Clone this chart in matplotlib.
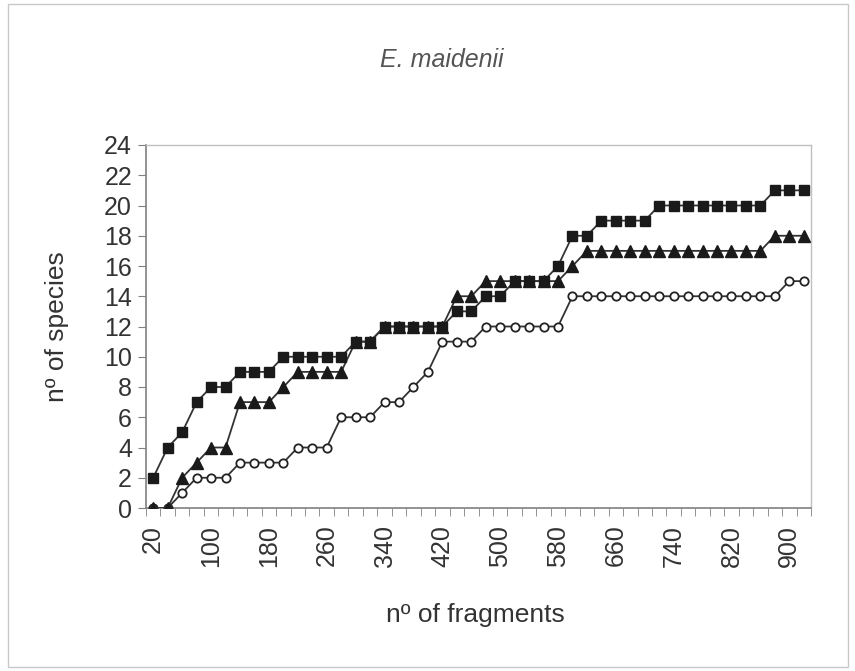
import matplotlib
matplotlib.use("Agg")
import matplotlib.pyplot as plt
from matplotlib.patches import Rectangle

plt.rcParams['font.family'] = ['Liberation Sans', 'DejaVu Sans']

# fragments sampled (every 20), 20..920
fragments = list(range(20, 921, 20))

# species counts
squares = [2, 4, 5, 7, 8, 8, 9, 9, 9, 10, 10, 10, 10, 10, 11, 11,
           12, 12, 12, 12, 12, 13, 13, 14, 14, 15, 15, 15, 16, 18, 18,
           19, 19, 19, 19, 20, 20, 20, 20, 20, 20, 20, 20, 21, 21, 21]
triangles = [0, 0, 2, 3, 4, 4, 7, 7, 7, 8, 9, 9, 9, 9, 11, 11,
             12, 12, 12, 12, 12, 14, 14, 15, 15, 15, 15, 15, 15, 16, 17,
             17, 17, 17, 17, 17, 17, 17, 17, 17, 17, 17, 17, 18, 18, 18]
circles = [0, 0, 1, 2, 2, 2, 3, 3, 3, 3, 4, 4, 4, 6, 6, 6,
           7, 7, 8, 9, 11, 11, 11, 12, 12, 12, 12, 12, 12, 14, 14,
           14, 14, 14, 14, 14, 14, 14, 14, 14, 14, 14, 14, 14, 15, 15]

fig = plt.figure(figsize=(8.55, 6.71), dpi=100)
ax = fig.add_axes([146/855, 1-508/671, (811-146)/855, (508-145)/671])

x = list(range(len(fragments)))
line_col = '#333333'
ax.plot(x, circles, color=line_col, lw=1.3, marker='o', ms=6,
        mfc='white', mec='#222222', mew=1.3, zorder=3)
ax.plot(x, triangles, color=line_col, lw=1.3, marker='^', ms=8,
        mfc='#1a1a1a', mec='#1a1a1a', zorder=4)
ax.plot(x, squares, color=line_col, lw=1.3, marker='s', ms=6.5,
        mfc='#1a1a1a', mec='#1a1a1a', zorder=5)

ax.set_xlim(-0.5, len(fragments) - 0.5)
ax.set_ylim(0, 24)
ax.set_yticks(range(0, 25, 2))

lab_idx = list(range(0, len(fragments), 4))
ax.set_xticks(lab_idx)
ax.set_xticklabels([str(fragments[i]) for i in lab_idx], rotation=90)
ax.set_xticks([k - 0.5 for k in range(len(fragments) + 1)], minor=True)
ax.tick_params(axis='x', which='major', length=0, pad=12, labelsize=18,
               labelcolor='#333333')
ax.tick_params(axis='x', which='minor', length=6, color='#808080',
               direction='out')
ax.tick_params(axis='y', length=6, color='#808080', labelsize=18,
               labelcolor='#333333', pad=4)

for s in ['top', 'right']:
    ax.spines[s].set_color('#c0c0c0')
    ax.spines[s].set_linewidth(1.0)
for s in ['left', 'bottom']:
    ax.spines[s].set_color('#808080')
    ax.spines[s].set_linewidth(1.2)

ax.set_ylabel('nº of species', fontsize=19, color='#333333')
ax.set_xlabel('nº of fragments', fontsize=19, color='#333333')
ax.yaxis.set_label_coords(-0.116, 0.5)
ax.xaxis.set_label_coords(0.495, -0.262)
fig.text(442/855, 1-60/671, 'E. maidenii', fontsize=18, style='italic',
         color='#555555', ha='center', va='center')

# outer chart frame
fig.patches.append(Rectangle((8/855, 4/671), 840/855, 663/671,
                             transform=fig.transFigure, fill=False,
                             ec='#c8c8c8', lw=1.0))

fig.savefig('out.png', dpi=100)
